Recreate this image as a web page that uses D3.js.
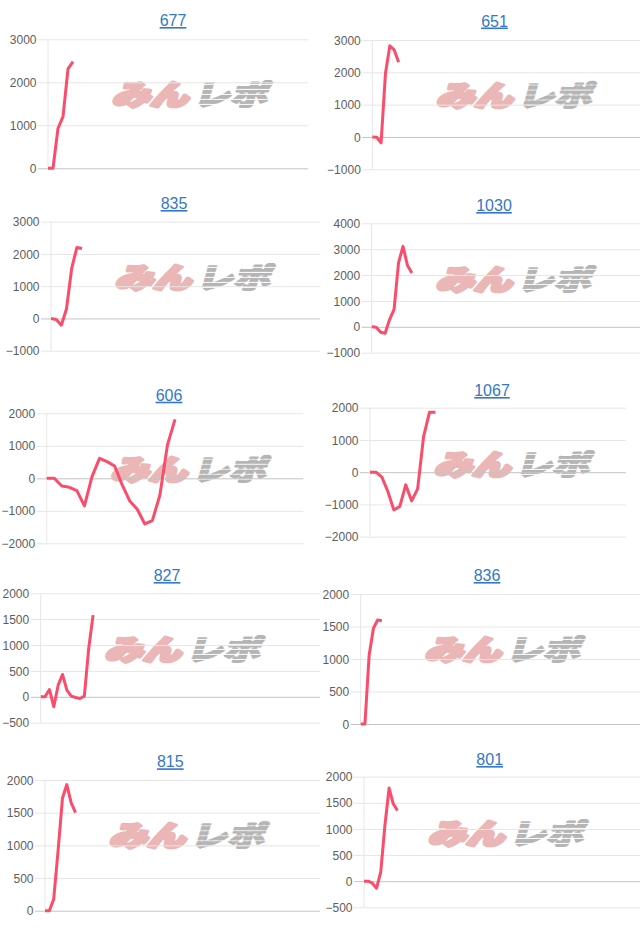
<!DOCTYPE html>
<html>
<head>
<meta charset="utf-8">
<script src="https://cdn.jsdelivr.net/npm/d3@7/dist/d3.min.js"></script>
<style>
  body { margin: 0; background: #fff; }
  svg { display: block; }
  .title { font-family: "Liberation Sans", Arial, sans-serif; font-size: 16px; fill: #3478c6; text-decoration: underline; }
  .tick text { font-family: "Liberation Sans", Arial, sans-serif; font-size: 12px; fill: #5e5e5e; }
</style>
</head>
<body>
<script>
// machine numbers and their difference-coin series
var titles = ["677", "651", "835", "1030", "606", "1067", "827", "836", "815", "801"];

var s677 = [0, 0, 930, 1200, 2310, 2480];
var s651 = [0, -10, -180, 1970, 2820, 2690, 2310];
var s835 = [0, -30, -210, 300, 1550, 2200, 2170];
var s1030 = [0, -15, -210, -250, 280, 670, 2470, 3110, 2370, 2080];
var s606 = [0, 0, -236, -277, -380, -850, 51, 615, 513, 380, -205, -697, -954, -1405, -1303, -513, 1025, 1815];
var s1067 = [0, 0, -155, -600, -1168, -1065, -393, -889, -517, 1106, 1860, 1860];
var s827 = [0, 0, 142, -193, 225, 432, 129, 13, -13, -32, 13, 934, 1578];
var s836 = [0, 0, 1060, 1470, 1600, 1590];
var s815 = [0, 0, 180, 920, 1720, 1930, 1650, 1500];
var s801 = [0, 0, -38, -134, 172, 1066, 1782, 1481, 1353];
var series = [s677, s651, s835, s1030, s606, s1067, s827, s836, s815, s801];

// number of x slots on each chart (only the first few are filled)
var slots = [53, 62, 53, 61, 35, 44, 65, 67, 64, 67];

// y axis ticks
var yMin = [0, -1000, -1000, -1000, -2000, -2000, -500, 0, 0, -500];
var yMax = [3000, 3000, 3000, 4000, 2000, 2000, 2000, 2000, 2000, 2000];
var yStep = [1000, 1000, 1000, 1000, 1000, 1000, 500, 500, 500, 500];

// plot frames on the page
var frames = [
  {x0: 48, x1: 308, top: 39.3, bottom: 168.3, tx: 173, ty: 26},
  {x0: 372.3, x1: 640, top: 40, bottom: 169.3, tx: 494.5, ty: 26.5},
  {x0: 51, x1: 320, top: 221.7, bottom: 350.7, tx: 174, ty: 209},
  {x0: 371.7, x1: 640, top: 223.3, bottom: 352.7, tx: 494, ty: 211},
  {x0: 46.7, x1: 303.3, top: 413.3, bottom: 543.3, tx: 169, ty: 400.7},
  {x0: 370, x1: 626, top: 407.7, bottom: 536.7, tx: 492, ty: 396},
  {x0: 40.7, x1: 320, top: 593.3, bottom: 722.7, tx: 167, ty: 581},
  {x0: 360.7, x1: 640, top: 594, bottom: 724, tx: 487, ty: 581},
  {x0: 45, x1: 320, top: 780, bottom: 910.7, tx: 170.3, ty: 767.3},
  {x0: 364, x1: 640, top: 776.7, bottom: 907.3, tx: 489.7, ty: 765}
];

var w = 640;
var h = 931;

var svg = d3.select("body").append("svg")
  .attr("width", w)
  .attr("height", h);

svg.append("rect")
  .attr("width", w)
  .attr("height", h)
  .attr("fill", "#fff");

// striped fill for the grey half of the logo
var pat = svg.append("defs").append("pattern")
  .attr("id", "stripe")
  .attr("patternUnits", "userSpaceOnUse")
  .attr("width", 8)
  .attr("height", 5);
pat.append("rect")
  .attr("width", 8)
  .attr("height", 4)
  .attr("fill", "#999");

frames.forEach(function(f, i) {
  var g = svg.append("g");
  var data = series[i];

  var x = d3.scaleLinear()
    .domain([0, slots[i] - 1])
    .range([f.x0, f.x1]);

  var y = d3.scaleLinear()
    .domain([yMin[i], yMax[i]])
    .range([f.bottom, f.top]);

  // watermark logo
  var cx = f.x0 + 140;
  var cy = f.ty + 69;
  var logo = g.append("g")
    .attr("transform", "translate(" + cx + "," + (cy + 10) + ") skewX(-16)")
    .attr("opacity", 0.72)
    .style("font-family", "'Noto Sans CJK JP', sans-serif")
    .style("font-weight", 900)
    .style("font-size", "28px")
    .attr("stroke-linejoin", "round");
  logo.append("text")
    .attr("x", -76)
    .attr("textLength", 76)
    .attr("lengthAdjust", "spacingAndGlyphs")
    .attr("fill", "#e39a9a")
    .attr("stroke", "#e39a9a")
    .attr("stroke-width", 3.4)
    .text("みん");
  logo.append("text")
    .attr("x", 5)
    .attr("textLength", 74)
    .attr("lengthAdjust", "spacingAndGlyphs")
    .attr("fill", "url(#stripe)")
    .attr("stroke", "url(#stripe)")
    .attr("stroke-width", 2.2)
    .text("レポ");

  // y axis with gridlines
  var ticks = d3.range(yMin[i], yMax[i] + yStep[i] / 2, yStep[i]);
  var axis = g.append("g")
    .attr("transform", "translate(" + (f.x0 - 10) + ",0)")
    .call(d3.axisLeft(y)
      .tickValues(ticks)
      .tickFormat(d3.format("d"))
      .tickSize(-(f.x1 - f.x0 + 10))
      .tickPadding(1.5));
  axis.select(".domain").remove();
  axis.selectAll(".tick line")
    .attr("stroke", function(d) { return d === 0 ? "#c4c4c4" : "#e6e6e6"; });
  axis.selectAll(".tick text")
    .attr("dy", "0.34em");

  // left border line
  g.append("line")
    .attr("x1", f.x0)
    .attr("x2", f.x0)
    .attr("y1", f.top)
    .attr("y2", f.bottom)
    .attr("stroke", "#e6e6e6");

  // the series line
  var line = d3.line()
    .x(function(d, j) { return x(j); })
    .y(function(d) { return y(d); });

  g.append("path")
    .datum(data)
    .attr("d", line)
    .attr("fill", "none")
    .attr("stroke", "#fa4d6c")
    .attr("stroke-width", 3)
    .attr("stroke-linejoin", "round");

  // title
  g.append("text")
    .attr("class", "title")
    .attr("x", f.tx)
    .attr("y", f.ty)
    .attr("text-anchor", "middle")
    .text(titles[i]);
});
</script>
</body>
</html>
